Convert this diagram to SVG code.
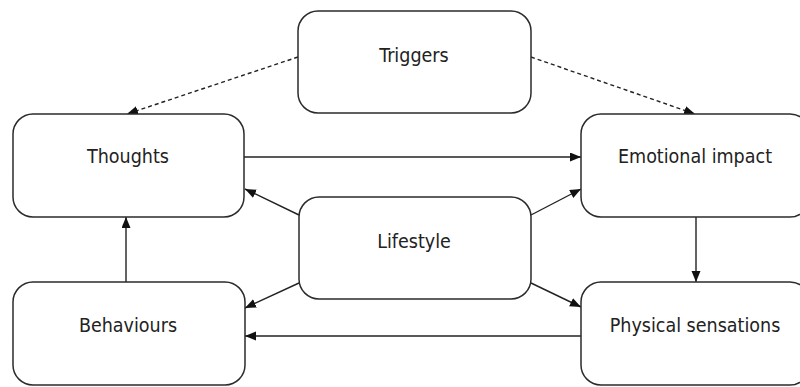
<svg xmlns="http://www.w3.org/2000/svg" width="800" height="387" viewBox="0 0 800 387">
<style>
.box{fill:#fff;stroke:#2b2b2b;stroke-width:1.5}
.lbl{font-family:"DejaVu Sans Condensed","DejaVu Sans",sans-serif;font-size:19.5px;fill:#222;text-anchor:middle}
.edge{stroke:#222;stroke-width:1.4;fill:none}
.dash{stroke-dasharray:4 3}
</style>
<defs>
<marker id="ah" markerUnits="userSpaceOnUse" markerWidth="12" markerHeight="10" refX="11" refY="4.5" orient="auto">
<path d="M0,0 L11,4.5 L0,9 z" fill="#111"/>
</marker>
</defs>
<rect width="800" height="387" fill="#fff"/>
<g id="connectors">
<line class="edge dash" x1="298" y1="57" x2="127" y2="114" marker-end="url(#ah)"/>
<line class="edge dash" x1="531" y1="57" x2="695" y2="114" marker-end="url(#ah)"/>
<line class="edge" x1="244" y1="157" x2="581" y2="157" marker-end="url(#ah)"/>
<line class="edge" x1="299" y1="215" x2="245" y2="189" marker-end="url(#ah)"/>
<line class="edge" x1="531" y1="215" x2="581" y2="189" marker-end="url(#ah)"/>
<line class="edge" x1="299" y1="283" x2="245" y2="308" marker-end="url(#ah)"/>
<line class="edge" x1="531" y1="283" x2="581" y2="307" marker-end="url(#ah)"/>
<line class="edge" x1="696" y1="217" x2="696" y2="282" marker-end="url(#ah)"/>
<line class="edge" x1="581" y1="336" x2="245" y2="336" marker-end="url(#ah)"/>
<line class="edge" x1="126" y1="282" x2="126" y2="217" marker-end="url(#ah)"/>
</g>
<g id="triggers">
<rect class="box" x="298" y="11" width="233" height="102" rx="20"/>
<text class="lbl" x="414" y="62">Triggers</text>
</g>
<g id="thoughts">
<rect class="box" x="13" y="114" width="231" height="103" rx="20"/>
<text class="lbl" x="128" y="163">Thoughts</text>
</g>
<g id="emotional">
<rect class="box" x="581" y="114" width="229" height="103" rx="20"/>
<text class="lbl" x="695" y="163">Emotional impact</text>
</g>
<g id="lifestyle">
<rect class="box" x="299" y="197" width="232" height="102" rx="20"/>
<text class="lbl" x="414" y="248">Lifestyle</text>
</g>
<g id="behaviours">
<rect class="box" x="13" y="282" width="232" height="103" rx="20"/>
<text class="lbl" x="128" y="332">Behaviours</text>
</g>
<g id="physical">
<rect class="box" x="581" y="282" width="229" height="103" rx="20"/>
<text class="lbl" x="695" y="332">Physical sensations</text>
</g>
</svg>
